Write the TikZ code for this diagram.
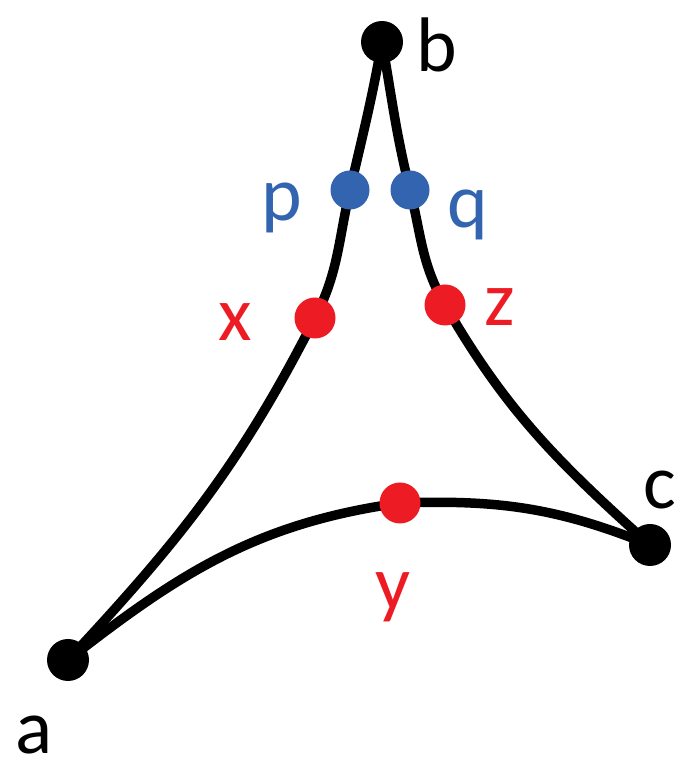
\documentclass[tikz,border=0pt]{standalone}
\usepackage{fontspec}
\setmainfont{Carlito}
\usepackage{tikz}
\usetikzlibrary{positioning,calc}
\definecolor{PtRed}{RGB}{237,28,36}
\definecolor{PtBlue}{RGB}{50,100,175}
\tikzset{
  vtx/.style={circle,fill=black,inner sep=0pt,minimum size=4.2mm},
  edge/.style={draw=black,line width=2.7pt,line cap=round},
}
\tikzset{rdot/.style={circle,fill=PtRed,inner sep=0pt,minimum size=4.1mm}, bdot/.style={circle,fill=PtBlue,inner sep=0pt,minimum size=3.9mm}, lab/.style={font=\fontsize{22}{24}\selectfont,inner sep=0pt}}
\begin{document}
\begin{tikzpicture}
\useasboundingbox (0,0) rectangle (6.74,7.66);
\coordinate (a) at (0.68,1.06);
\coordinate (b) at (3.82,7.24);
\coordinate (c) at (6.50,2.21);
\coordinate (p) at (3.50,5.76);
\coordinate (q) at (4.10,5.76);
\coordinate (x) at (3.15,4.48);
\coordinate (z) at (4.45,4.61);
\coordinate (y) at (4.00,2.63);
\draw[edge] (a) to[out=47,in=243] (x) to[out=63,in=257] (p) to[out=77,in=260] (b);
\draw[edge] (b) to[out=-80,in=104] (q) to[out=-76,in=120] (z) to[out=-60,in=138] (c);
\draw[edge] (a) to[out=38,in=188] (y) to[out=2,in=158] (c);
\node[vtx] (na) at (a) {};
\node[vtx] (nb) at (b) {};
\node[vtx] (nc) at (c) {};
\node[bdot] (np) at (p) {};
\node[bdot] (nq) at (q) {};
\node[rdot] (nx) at (x) {};
\node[rdot] (nz) at (z) {};
\node[rdot] (ny) at (y) {};
\node[lab] (la) at (0.34,0.31) {a};
\node[lab] (lb) at (4.37,7.21) {b};
\node[lab] (lc) at (6.60,2.76) {c};
\node[lab,text=PtBlue] (lp) at (2.82,5.58) {p};
\node[lab,text=PtBlue] (lq) at (4.68,5.51) {q};
\node[lab,text=PtRed] (lx) at (2.35,4.44) {x};
\node[lab,text=PtRed] (lz) at (5.00,4.59) {z};
\node[lab,text=PtRed] (ly) at (3.93,1.69) {y};
\end{tikzpicture}
\end{document}
